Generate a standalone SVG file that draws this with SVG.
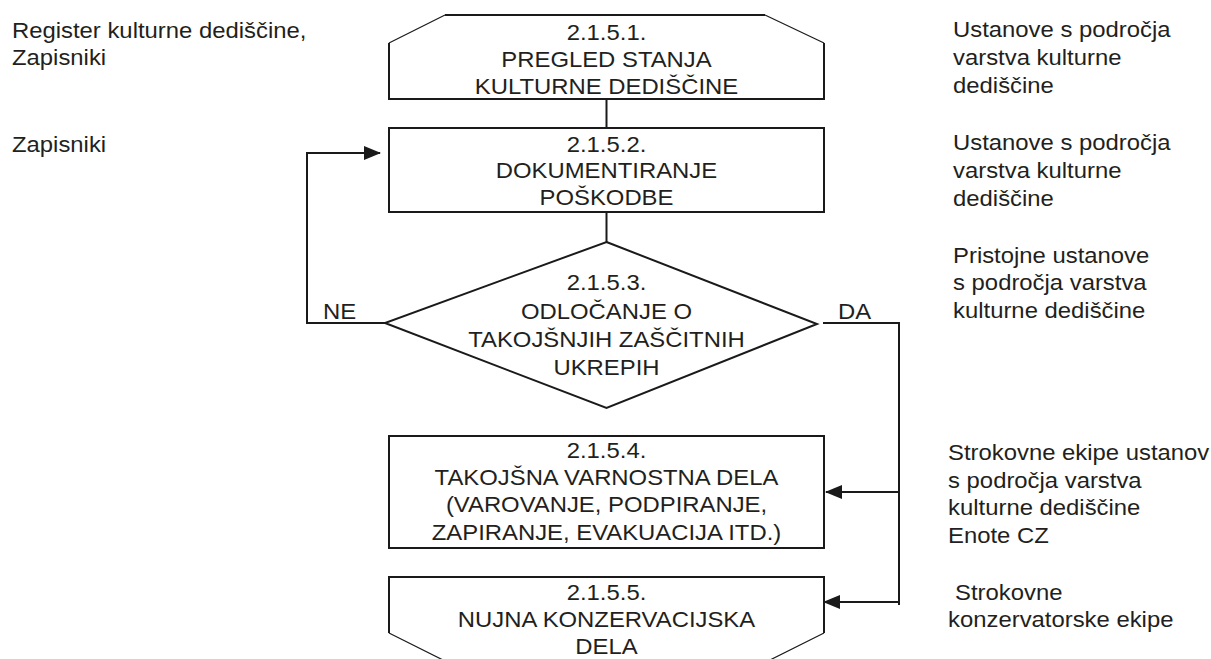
<svg xmlns="http://www.w3.org/2000/svg" width="1211" height="659" viewBox="0 0 1211 659">
<style>
.bg{fill:#ffffff}
.sh{fill:none;stroke:#1a1a1a;stroke-width:2}
.th{fill:none;stroke:#1a1a1a;stroke-width:1.2}
.cn{fill:none;stroke:#1a1a1a;stroke-width:2}
text{font-family:"Liberation Sans",Arial,Helvetica,sans-serif;font-size:21.5px;fill:#231f20}
.c{text-anchor:middle}
</style>
<defs>
<marker id="ah" markerWidth="17" markerHeight="14" refX="16" refY="7" orient="auto" markerUnits="userSpaceOnUse">
<path d="M0,0 L17,7 L0,14 z" fill="#1a1a1a"/>
</marker>
</defs>
<rect class="bg" x="0" y="0" width="1211" height="659"/>

<g id="connectors">
<line class="cn" x1="606.5" y1="99" x2="606.5" y2="128"/>
<line class="cn" x1="606.5" y1="212" x2="606.5" y2="242"/>
<polyline class="cn" points="385,323 307,323 307,153 380,153" marker-end="url(#ah)"/>
<polyline class="cn" points="823,323 899,323 899,605"/>
<line class="cn" x1="899" y1="492" x2="826" y2="492" marker-end="url(#ah)"/>
<line class="cn" x1="899" y1="602" x2="824" y2="602" marker-end="url(#ah)"/>
</g>

<g id="n1">
<path class="sh" d="M389,43 L389,99 L824,99 L824,43 M445,15 L765,15"/>
<path class="th" d="M389,43 L445,15 M765,15 L824,43"/>
<g transform="scale(1.11,1)">
<text class="c" x="546.4" y="40">2.1.5.1.</text>
<text class="c" x="546.4" y="67">PREGLED STANJA</text>
<text class="c" x="546.4" y="94">KULTURNE DEDIŠČINE</text>
</g>
</g>

<g id="n2">
<rect class="sh" x="389" y="128" width="435" height="84"/>
<g transform="scale(1.11,1)">
<text class="c" x="546.4" y="152">2.1.5.2.</text>
<text class="c" x="546.4" y="178">DOKUMENTIRANJE</text>
<text class="c" x="546.4" y="205">POŠKODBE</text>
</g>
</g>

<g id="n3">
<polygon class="sh" points="606.5,242 817,324 606.5,408 385,323"/>
<g transform="scale(1.11,1)">
<text class="c" x="546.4" y="290">2.1.5.3.</text>
<text class="c" x="546.4" y="319">ODLOČANJE O</text>
<text class="c" x="546.4" y="347">TAKOJŠNJIH ZAŠČITNIH</text>
<text class="c" x="546.4" y="375">UKREPIH</text>
</g>
</g>

<g id="n4">
<rect class="sh" x="389" y="436" width="435" height="112"/>
<g transform="scale(1.11,1)">
<text class="c" x="546.4" y="458">2.1.5.4.</text>
<text class="c" x="546.4" y="485">TAKOJŠNA VARNOSTNA DELA</text>
<text class="c" x="546.4" y="512">(VAROVANJE, PODPIRANJE,</text>
<text class="c" x="546.4" y="540">ZAPIRANJE, EVAKUACIJA ITD.)</text>
</g>
</g>

<g id="n5">
<path class="sh" d="M389,633 L389,577 L824,577 L824,633"/>
<path class="th" d="M389,633 L445,661 M824,633 L768,661"/>
<g transform="scale(1.11,1)">
<text class="c" x="546.4" y="600">2.1.5.5.</text>
<text class="c" x="546.4" y="627">NUJNA KONZERVACIJSKA</text>
<text class="c" x="546.4" y="654">DELA</text>
</g>
</g>

<g id="edge-labels" transform="scale(1.11,1)">
<text x="291" y="319">NE</text>
<text x="755" y="319">DA</text>
</g>

<g id="left-labels" transform="scale(1.11,1)">
<text x="10.8" y="38">Register kulturne dediščine,</text>
<text x="10.8" y="65">Zapisniki</text>
<text x="10.8" y="152">Zapisniki</text>
</g>

<g id="right-labels" transform="scale(1.11,1)">
<text x="858.6" y="37">Ustanove s področja</text>
<text x="858.6" y="65">varstva kulturne</text>
<text x="858.6" y="93">dediščine</text>
<text x="858.6" y="150">Ustanove s področja</text>
<text x="858.6" y="178">varstva kulturne</text>
<text x="858.6" y="206">dediščine</text>
<text x="858.6" y="263">Pristojne ustanove</text>
<text x="858.6" y="290">s področja varstva</text>
<text x="858.6" y="318">kulturne dediščine</text>
<text x="854.1" y="460">Strokovne ekipe ustanov</text>
<text x="854.1" y="488">s področja varstva</text>
<text x="854.1" y="515">kulturne dediščine</text>
<text x="854.1" y="543">Enote CZ</text>
<text x="860.4" y="600">Strokovne</text>
<text x="854.1" y="627">konzervatorske ekipe</text>
</g>
</svg>
